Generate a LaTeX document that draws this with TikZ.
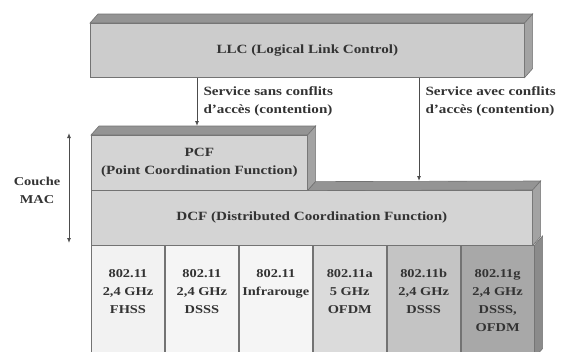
\documentclass[tikz,border=0pt]{standalone}
\usepackage{fontspec}
\setmainfont[FakeStretch=1.2]{Liberation Serif}
\usetikzlibrary{arrows.meta}
\definecolor{edge}{gray}{0.45}
\definecolor{txt}{gray}{0.2}
\definecolor{llcf}{gray}{0.80}
\definecolor{topc}{gray}{0.58}
\definecolor{sidec}{gray}{0.64}
\definecolor{macf}{gray}{0.83}
\definecolor{cA}{gray}{0.95}
\definecolor{cB}{gray}{0.96}
\definecolor{cC}{gray}{0.96}
\definecolor{cD}{gray}{0.86}
\definecolor{cE}{gray}{0.77}
\definecolor{cF}{gray}{0.66}
\begin{document}
\begin{tikzpicture}[x=1pt,y=-1pt,
  face/.style={draw=edge, line width=0.6pt},
  front/.style={face, inner sep=0pt, anchor=north west},
  lbl/.style={font=\bfseries\fontsize{12}{18}\selectfont, text=txt, align=center},
  biglbl/.style={lbl, font=\bfseries\fontsize{12.6}{18}\selectfont},
  conn/.style={draw=black!70, line width=0.9pt, -{Latex[length=5pt,width=4pt]}},
  cellbox/.style={front, minimum width=73.33pt, minimum height=112pt}]
\useasboundingbox[fill=white] (0,0) rectangle (562,351);

% LLC bar
\node[front, fill=llcf, minimum width=434pt, minimum height=54pt] (llc) at (90,23) {};
\node[biglbl] (llct) at (llc.center) {LLC (Logical Link Control)};
\draw[face, fill=topc] (llc.north west) -- ++(8,-9) -- ([shift={(8,-9)}]llc.north east) -- (llc.north east) -- cycle;
\draw[face, fill=sidec] (llc.north east) -- ++(8,-9) -- ([shift={(8,-9)}]llc.south east) -- (llc.south east) -- cycle;

% PCF
\node[front, fill=macf, minimum width=216pt, minimum height=55pt] (pcf) at (91,135) {};
\node[biglbl] (pcft) at (pcf.center) {PCF\\(Point Coordination Function)};
\draw[face, fill=topc] (pcf.north west) -- ++(8,-9) -- ([shift={(8,-9)}]pcf.north east) -- (pcf.north east) -- cycle;
\draw[face, fill=sidec] (pcf.north east) -- ++(8,-9) -- ([shift={(8,-9)}]pcf.south east) -- (pcf.south east) -- cycle;

% DCF
\node[front, fill=macf, minimum width=441pt, minimum height=55pt] (dcf) at (91,190) {};
\node[biglbl] (dcft) at (dcf.center) {DCF (Distributed Coordination Function)};
\draw[face, fill=topc] (pcf.south east) -- ++(8,-9) -- ([shift={(8,-9)}]dcf.north east) -- (dcf.north east) -- cycle;
\draw[face, fill=sidec] (dcf.north east) -- ++(8,-9) -- ([shift={(8,-9)}]dcf.south east) -- (dcf.south east) -- cycle;

% Physical layer cells
\node[cellbox, fill=cA] (c1) at (91,245) {};
\node[cellbox, fill=cB] (c2) at (c1.north east) {};
\node[cellbox, fill=cC] (c3) at (c2.north east) {};
\node[cellbox, fill=cD] (c4) at (c3.north east) {};
\node[cellbox, fill=cE] (c5) at (c4.north east) {};
\node[cellbox, fill=cF] (c6) at (c5.north east) {};
\draw[face, fill=sidec!85!black] (c6.north east) -- ++(8,-9) -- ([shift={(8,-9)}]c6.south east) -- (c6.south east) -- cycle;
\node[lbl, anchor=north] (t1) at ([yshift=-21pt]c1.north) {802.11\\2,4 GHz\\FHSS};
\node[lbl, anchor=north] (t2) at ([yshift=-21pt]c2.north) {802.11\\2,4 GHz\\DSSS};
\node[lbl, anchor=north] (t3) at ([yshift=-21pt]c3.north) {802.11\\Infrarouge};
\node[lbl, anchor=north] (t4) at ([yshift=-21pt]c4.north) {802.11a\\5 GHz\\OFDM};
\node[lbl, anchor=north] (t5) at ([yshift=-21pt]c5.north) {802.11b\\2,4 GHz\\DSSS};
\node[lbl, anchor=north] (t6) at ([yshift=-21pt]c6.north) {802.11g\\2,4 GHz\\DSSS,\\OFDM};

% Service arrows
\coordinate (pa) at (197,126);
\coordinate (da) at (419,181);
\draw[conn] (llc.south -| pa) -- (pa);
\draw[conn] (llc.south -| da) -- (da);
\node[biglbl, align=left, anchor=north west] (s1) at (200,83) {Service sans conflits\\d'accès (contention)};
\node[biglbl, align=left, anchor=north west] (s2) at (422,83) {Service avec conflits\\d'accès (contention)};

% Couche MAC
\coordinate (mt) at (69,133);
\coordinate (mb) at (69,243);
\draw[conn, {Latex[length=5pt,width=4pt]}-{Latex[length=5pt,width=4pt]}] (mt) -- (mb);
\node[lbl] (mac) at (37,190) {Couche\\MAC};
\end{tikzpicture}
\end{document}
